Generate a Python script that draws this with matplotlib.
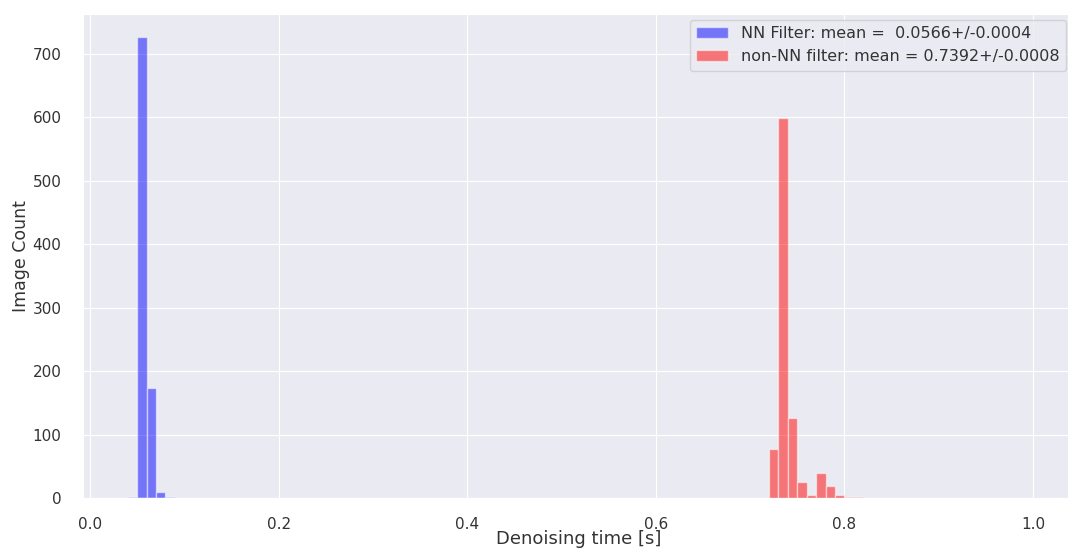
import numpy as np
import matplotlib
matplotlib.use('Agg')
import matplotlib.pyplot as plt
import seaborn as sns

# histogram counts, bins of 0.01 s (left edges)
nn_bin_left = [0.04, 0.05, 0.06, 0.07, 0.08]
nn_counts = [1, 727, 174, 10, 1]
non_nn_bin_left = [0.72, 0.73, 0.74, 0.75, 0.76, 0.77, 0.78, 0.79, 0.80, 0.81]
non_nn_counts = [77, 599, 126, 25, 4, 39, 19, 4, 1, 1]

nn_label = 'NN Filter: mean =  0.0566+/-0.0004'
non_nn_label = 'non-NN filter: mean = 0.7392+/-0.0008'

sns.set_style('darkgrid')
plt.rcParams['font.family'] = ['DejaVu Sans']
plt.rcParams['text.color'] = '#333333'
plt.rcParams['axes.labelcolor'] = '#333333'
plt.rcParams['xtick.color'] = '#333333'
plt.rcParams['ytick.color'] = '#333333'

fig = plt.figure(figsize=(10.68, 5.5), dpi=100)
# axes runs a little past the right edge, as in the cropped original
ax = fig.add_axes([83 / 1068, 52 / 550, (1075 - 83) / 1068, 484 / 550])

bins = np.linspace(0, 1, 101)
nn_centres = np.array(nn_bin_left) + 0.005
non_nn_centres = np.array(non_nn_bin_left) + 0.005
ax.hist(nn_centres, bins=bins, weights=nn_counts, color='b', alpha=0.5,
        edgecolor='white', linewidth=1, label=nn_label)
ax.hist(non_nn_centres, bins=bins, weights=non_nn_counts, color='r', alpha=0.5,
        edgecolor='white', linewidth=1, label=non_nn_label)

ax.set_xlim(-0.0074, 1.0445)
ax.set_ylim(0, 763)
ax.set_xlabel('Denoising time [s]', fontsize=13, labelpad=-1)
ax.set_ylabel('Image Count', fontsize=12.5, labelpad=2)
ax.tick_params(axis='x', labelsize=11, pad=10)
ax.tick_params(axis='y', labelsize=11, pad=12)
ax.legend(loc='upper right', fontsize=11.5, borderaxespad=0,
          bbox_to_anchor=((1066 - 83) / 992, (498 - 20) / 484))

fig.savefig('out.png', dpi=100)
